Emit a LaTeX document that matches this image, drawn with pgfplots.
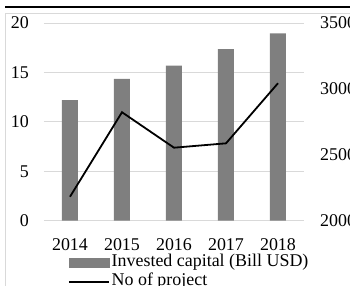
\documentclass[border=0pt]{standalone}
\usepackage{fontspec}
\setmainfont{Liberation Serif}
\usepackage{pgfplots}
\pgfplotsset{compat=1.18}
\definecolor{barGray}{HTML}{7F7F7F}
\definecolor{gridGray}{HTML}{D9D9D9}
\definecolor{frameGray}{HTML}{D9D9D9}
\newcommand\ff{\fontsize{18}{20}\selectfont}
\begin{document}
\begin{tikzpicture}
\useasboundingbox (0,0) rectangle (350bp,-286bp);
\clip (0,0) rectangle (350bp,-286bp);
\draw[frameGray, line width=0.8bp] (5bp,-290bp) -- (5bp,-13.5bp) -- (355bp,-13.5bp);
\draw[black, line width=2.5bp] (5bp,-7bp) -- (355bp,-7bp);
\begin{axis}[
  at={(44bp,-220.7bp)}, anchor=south west,
  scale only axis, width=260bp, height=197.7bp,
  xmin=2013.5, xmax=2018.5, ymin=0, ymax=20,
  xtick={2014,2015,2016,2017,2018},
  xticklabels={2014,2015,2016,2017,2018},
  ytick={0,5,10,15,20},
  ymajorgrids, grid style={gridGray, line width=0.9bp},
  axis line style={draw=none},
  major tick length=0pt,
  /pgf/number format/assume math mode=true,
  tick label style={font=\ff},
  xticklabel style={inner sep=0pt, anchor=north, yshift=-18bp},
  yticklabel style={inner sep=0pt, anchor=east, xshift=-15bp},
  axis y line*=left,
]
\addplot[ybar, bar width=16bp, fill=barGray, draw=none] coordinates {
  (2014,12.2) (2015,14.35) (2016,15.68) (2017,17.35) (2018,18.95)};
\end{axis}
\begin{axis}[
  at={(44bp,-220.7bp)}, anchor=south west,
  scale only axis, width=260bp, height=197.7bp,
  xmin=2013.5, xmax=2018.5, ymin=2000, ymax=3500,
  xtick=\empty,
  ytick={2000,2500,3000,3500},
  axis x line=none,
  axis y line*=right,
  axis line style={draw=none},
  major tick length=0pt,
  /pgf/number format/assume math mode=true,
  /pgf/number format/1000 sep={},
  tick label style={font=\ff},
  yticklabel style={inner sep=0pt, anchor=west, xshift=16bp},
  legend cell align=left,
  legend style={draw=none, fill=none, font=\ff, inner sep=0pt,
    at={(0.0923,-0.165)}, anchor=north west,
    nodes={inner ysep=0pt, inner xsep=2bp, text height=13bp, text depth=6bp},
    row sep=0pt},
]
\addlegendimage{legend image code/.code={\fill[barGray] (0bp,-4.5bp) rectangle (40bp,4.5bp);}}
\addlegendentry{Invested capital (Bill USD)}
\addplot[black, line width=1.8bp, mark=none,
  legend image code/.code={\draw[black, line width=1.5bp] (0bp,0bp) -- (40bp,0bp);}] coordinates {
  (2014,2182) (2015,2823) (2016,2554) (2017,2587) (2018,3043)};
\addlegendentry{No of project}
\end{axis}
\end{tikzpicture}
\end{document}
